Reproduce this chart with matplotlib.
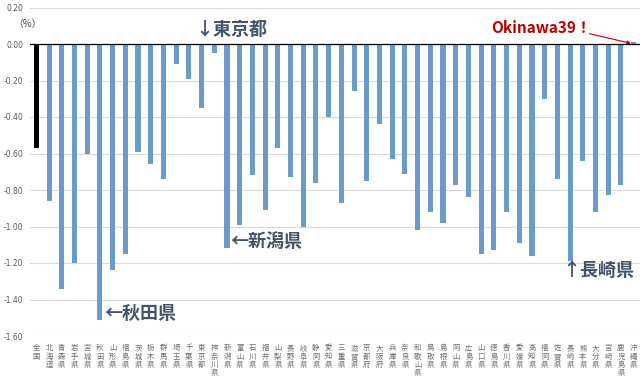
import matplotlib
matplotlib.use("Agg")
import matplotlib.pyplot as plt

plt.rcParams['font.family'] = ['Noto Sans CJK JP', 'DejaVu Sans']

categories = ["全国", "北海道", "青森県", "岩手県", "宮城県", "秋田県", "山形県", "福島県",
              "茨城県", "栃木県", "群馬県", "埼玉県", "千葉県", "東京都", "神奈川県",
              "新潟県", "富山県", "石川県", "福井県", "山梨県", "長野県", "岐阜県", "静岡県",
              "愛知県", "三重県", "滋賀県", "京都府", "大阪府", "兵庫県", "奈良県", "和歌山県",
              "鳥取県", "島根県", "岡山県", "広島県", "山口県", "徳島県", "香川県", "愛媛県",
              "高知県", "福岡県", "佐賀県", "長崎県", "熊本県", "大分県", "宮崎県", "鹿児島県",
              "沖縄県"]
values = [-0.57, -0.86, -1.34, -1.20, -0.60, -1.51, -1.24, -1.15,
          -0.59, -0.66, -0.74, -0.11, -0.19, -0.35, -0.05,
          -1.12, -0.99, -0.72, -0.91, -0.57, -0.73, -1.00, -0.76,
          -0.40, -0.87, -0.26, -0.75, -0.44, -0.63, -0.71, -1.02,
          -0.92, -0.98, -0.77, -0.84, -1.15, -1.13, -0.92, -1.09,
          -1.16, -0.30, -0.74, -1.19, -0.64, -0.92, -0.83, -0.77,
          0.01]
yticks = [0.20, 0.00, -0.20, -0.40, -0.60, -0.80, -1.00, -1.20, -1.40, -1.60]

fig = plt.figure(figsize=(6.4, 3.79), dpi=100)
ax = fig.add_axes([30/640, 43/379, 610/640, 328.5/379])

x = list(range(len(categories)))
colors = ['#000000'] + ['#6A9BCB'] * (len(categories) - 1)
ax.bar(x, values, width=0.4, color=colors, zorder=3)

ax.set_xlim(-0.5, len(categories) - 0.5)
ax.set_ylim(-1.6, 0.2)
ax.set_yticks(yticks)
ax.set_yticklabels([f"{v:.2f}" for v in yticks], fontsize=5.5, color='#595959',
                   family=['DejaVu Sans'])
ax.yaxis.grid(True, color='#D9D9D9', linewidth=0.8, zorder=0)
ax.axhline(0, color='#000000', linewidth=0.9, zorder=4)
ax.tick_params(axis='both', length=0, pad=5)
for s in ax.spines.values():
    s.set_visible(False)

ax.set_xticks(x)
ax.set_xticklabels(["\n".join(c) for c in categories], fontsize=5.3, color='#6E6E6E',
                   linespacing=1.05, va='top')
ax.tick_params(axis='x', pad=6)

# (%) label
fig.text(13/640, 1 - 24/379, "（%）", fontsize=7, color='#404040', va='center')

dark = '#44546A'
ax.text(12.5, 0.078, "↓東京都", fontsize=13, fontweight='bold', color=dark,
        ha='left', va='center')
ax.text(5.35, -1.475, "←秋田県", fontsize=13, fontweight='bold', color=dark,
        ha='left', va='center')
ax.text(15.3, -1.08, "←新潟県", fontsize=13, fontweight='bold', color=dark,
        ha='left', va='center')
ax.text(41.35, -1.24, "↑長崎県", fontsize=13, fontweight='bold', color=dark,
        ha='left', va='center')
ax.text(35.75, 0.085, "Okinawa39！", fontsize=11, fontweight='bold', color='#C00000',
        ha='left', va='center')
ax.annotate("", xy=(47.0, 0.0), xytext=(43.3, 0.06),
            arrowprops=dict(arrowstyle='-|>', color='#C00000', lw=0.8,
                            mutation_scale=5))

fig.savefig("out.png", dpi=100)
